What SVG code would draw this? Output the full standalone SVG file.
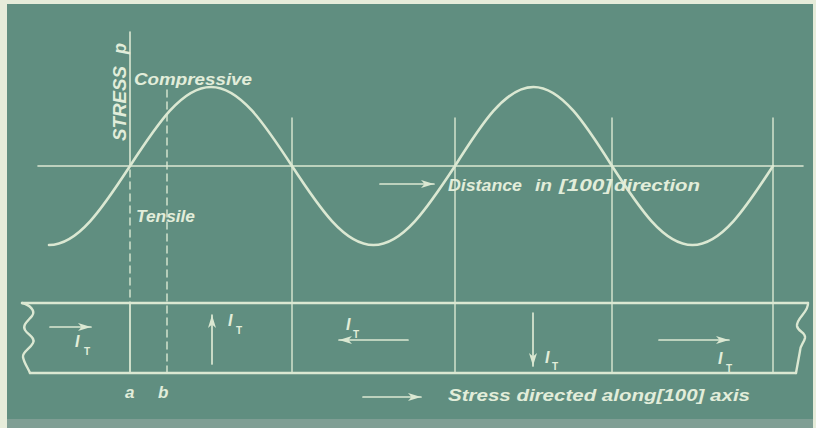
<svg xmlns="http://www.w3.org/2000/svg" width="816" height="428" viewBox="0 0 816 428">
<style>
.ln{stroke:#dbe8d2;fill:none;stroke-linecap:round}
.thin{stroke-width:1.4}
.box{stroke-width:2.4}
.dash{stroke-width:1.4;stroke-dasharray:7 5}
.arr{stroke-width:1.7;marker-end:url(#ah)}
.tx{fill:#e2edda;font-family:"Liberation Sans",Arial,sans-serif;font-style:italic;font-weight:bold}
.sub{font-style:normal;font-size:10px}
</style>
<defs>
<marker id="ah" markerUnits="userSpaceOnUse" markerWidth="15" markerHeight="10" refX="13" refY="5" orient="auto">
<path d="M0,1 L13,5 L0,9 L3.5,5 Z" fill="#dbe8d2"/>
</marker>
</defs>
<rect x="0" y="0" width="816" height="428" fill="#e6ecda"/>
<rect x="7" y="4" width="806" height="416" fill="#608e80"/>
<rect x="7" y="419" width="806" height="9" fill="#7f9e94"/>

<g id="axes">
<line class="ln" x1="38" y1="166" x2="803" y2="166" stroke-width="1.6"/>
<line class="ln" x1="130" y1="32" x2="130" y2="166" stroke-width="1.6"/>
</g>

<g id="stress-wave">
<path class="ln" stroke-width="2.6" d="M49,245 C78.2,245 102.9,207.5 130,166 C157.1,124.5 181.8,87 211,87 C240.2,87 264.9,124.5 292,166 C319.2,207.5 344.2,245 373.5,245 C402.8,245 427.8,207.5 455,166 C481.2,124.5 505.2,87 533.5,87 C561.8,87 585.8,124.5 612,166 C638.9,207.5 663.5,245 692.5,245 C721.5,245 746.1,207.5 773,166"/>
</g>

<g id="connectors">
<line class="ln dash" x1="130" y1="170" x2="130" y2="303"/>
<line class="ln dash" x1="167" y1="90" x2="167" y2="373"/>
<line class="ln thin" x1="292" y1="118" x2="292" y2="373"/>
<line class="ln thin" x1="455" y1="118" x2="455" y2="373"/>
<line class="ln thin" x1="612" y1="118" x2="612" y2="373"/>
<line class="ln thin" x1="773" y1="118" x2="773" y2="373"/>
<line class="ln arr" x1="380" y1="184" x2="434" y2="184"/>
<line class="ln arr" x1="363" y1="397" x2="421" y2="397"/>
</g>

<g id="crystal-bar">
<line class="ln box" x1="22" y1="303" x2="808" y2="303"/>
<line class="ln box" x1="30" y1="373" x2="796" y2="373"/>
<path class="ln box" d="M22,303 C30,305 36,311 32,316 C28,321 22,325 25,330 C28,335 36,338 33,343 C30,349 22,352 23,357 C24,363 28,368 30,373"/>
<path class="ln box" d="M808,303 C809,312 796,318 797,326 C798,332 806,332 805,338 C804,343 800,345 800,351 L796,373"/>
<line class="ln" x1="130" y1="303" x2="130" y2="373" stroke-width="1.8"/>
</g>

<g id="cell1">
<line class="ln arr" x1="50" y1="327" x2="91" y2="327"/>
<text class="tx" x="75" y="347" font-size="16">I<tspan class="sub" x="84" y="355">T</tspan></text>
</g>
<g id="cell2">
<line class="ln arr" x1="212" y1="364" x2="212" y2="315"/>
<text class="tx" x="228" y="326" font-size="16">I<tspan class="sub" x="236" y="334">T</tspan></text>
</g>
<g id="cell3">
<line class="ln arr" x1="408" y1="340" x2="339" y2="340"/>
<text class="tx" x="346" y="330" font-size="16">I<tspan class="sub" x="353" y="338">T</tspan></text>
</g>
<g id="cell4">
<line class="ln arr" x1="533" y1="313" x2="533" y2="366"/>
<text class="tx" x="545" y="363" font-size="16">I<tspan class="sub" x="552" y="370">T</tspan></text>
</g>
<g id="cell5">
<line class="ln arr" x1="659" y1="340" x2="729" y2="340"/>
<text class="tx" x="718" y="364" font-size="16">I<tspan class="sub" x="726" y="372">T</tspan></text>
</g>

<g id="labels">
<text class="tx" font-size="18" transform="translate(126,141) rotate(-90)"><tspan textLength="75" lengthAdjust="spacingAndGlyphs">STRESS</tspan><tspan x="87">p</tspan></text>
<text class="tx" x="134" y="85" font-size="17" textLength="118" lengthAdjust="spacingAndGlyphs">Compressive</text>
<text class="tx" x="136" y="222" font-size="16" textLength="59" lengthAdjust="spacingAndGlyphs">Tensile</text>
<text class="tx" font-size="17" y="191"><tspan x="448" textLength="74" lengthAdjust="spacingAndGlyphs">Distance</tspan><tspan x="535" textLength="17" lengthAdjust="spacingAndGlyphs">in</tspan><tspan x="559" textLength="53" lengthAdjust="spacingAndGlyphs">[100]</tspan><tspan x="614" textLength="86" lengthAdjust="spacingAndGlyphs">direction</tspan></text>
<text class="tx" x="448" y="401" font-size="17" textLength="302" lengthAdjust="spacingAndGlyphs">Stress directed along[100] axis</text>
<text class="tx" x="125" y="398" font-size="17">a</text>
<text class="tx" x="158" y="398" font-size="17">b</text>
</g>
</svg>
